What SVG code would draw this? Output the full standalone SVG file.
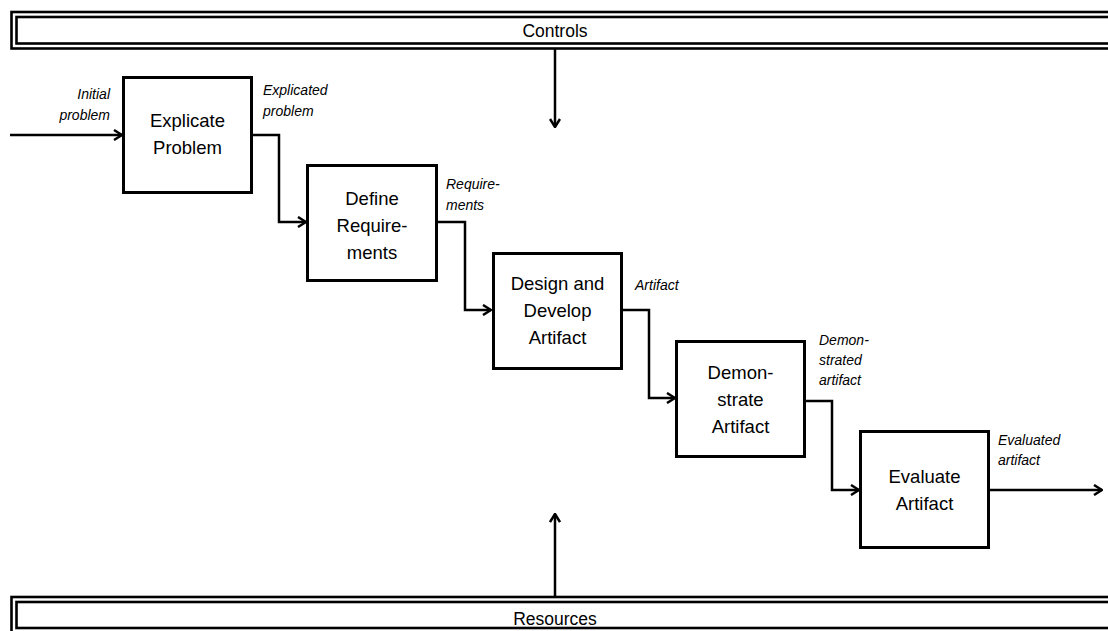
<svg xmlns="http://www.w3.org/2000/svg" width="1108" height="631" viewBox="0 0 1108 631">
<defs>
<style>
.box{fill:#fff;stroke:#000;stroke-width:3}
.bar{fill:none;stroke:#000;stroke-width:2.6}
.bt{font-family:"Liberation Sans",Arial,sans-serif;font-size:18.5px;text-anchor:middle;fill:#000}
.lbl{font-family:"Liberation Sans",Arial,sans-serif;font-size:14px;font-style:italic;fill:#000}
.cn{fill:none;stroke:#000;stroke-width:2.5;stroke-linejoin:miter}
</style>
<marker id="ah" viewBox="0 0 12 12" refX="11" refY="6" markerWidth="12" markerHeight="12" markerUnits="userSpaceOnUse" orient="auto">
<path d="M3,1 L11,6 L3,11" fill="none" stroke="#000" stroke-width="2.5"/>
</marker>
</defs>
<rect width="1108" height="631" fill="#fff"/>
<g id="controls">
<rect class="bar" x="11.5" y="12" width="1110" height="36.5"/>
<rect class="bar" x="16.5" y="17" width="1100" height="26.5"/>
<text class="bt" x="555" y="37" style="font-size:17.5px">Controls</text>
</g>
<g id="resources">
<rect class="bar" x="11.5" y="597" width="1110" height="40"/>
<rect class="bar" x="16.5" y="602" width="1100" height="26"/>
<text class="bt" x="555" y="625" style="font-size:17.5px">Resources</text>
</g>
<g id="connectors">
<path class="cn" d="M555,49 V127" marker-end="url(#ah)"/>
<path class="cn" d="M555,596 V514" marker-end="url(#ah)"/>
<path class="cn" d="M10,135 H122" marker-end="url(#ah)"/>
<path class="cn" d="M252,135 H279 V222 H306" marker-end="url(#ah)"/>
<path class="cn" d="M437,222 H465 V310 H491" marker-end="url(#ah)"/>
<path class="cn" d="M622,310 H649 V398 H675" marker-end="url(#ah)"/>
<path class="cn" d="M806,401 H832 V490 H859" marker-end="url(#ah)"/>
<path class="cn" d="M989,490 H1102" marker-end="url(#ah)"/>
</g>
<g id="explicate">
<rect class="box" x="123.5" y="77.5" width="128" height="115"/>
<text class="bt" x="187.5" y="127">Explicate</text>
<text class="bt" x="187.5" y="154">Problem</text>
</g>
<g id="define">
<rect class="box" x="307.5" y="165.5" width="129" height="115"/>
<text class="bt" x="372" y="205">Define</text>
<text class="bt" x="372" y="232">Require-</text>
<text class="bt" x="372" y="259">ments</text>
</g>
<g id="design">
<rect class="box" x="493.5" y="253.5" width="128" height="115"/>
<text class="bt" x="557.5" y="290">Design and</text>
<text class="bt" x="557.5" y="317">Develop</text>
<text class="bt" x="557.5" y="344">Artifact</text>
</g>
<g id="demonstrate">
<rect class="box" x="676.5" y="341.5" width="128" height="115"/>
<text class="bt" x="740.5" y="379">Demon-</text>
<text class="bt" x="740.5" y="406">strate</text>
<text class="bt" x="740.5" y="433">Artifact</text>
</g>
<g id="evaluate">
<rect class="box" x="860.5" y="431.5" width="128" height="116"/>
<text class="bt" x="924.5" y="483">Evaluate</text>
<text class="bt" x="924.5" y="510">Artifact</text>
</g>
<g id="labels">
<text class="lbl" x="110" y="99" text-anchor="end">Initial</text>
<text class="lbl" x="110" y="120" text-anchor="end">problem</text>
<text class="lbl" x="263" y="95">Explicated</text>
<text class="lbl" x="263" y="116">problem</text>
<text class="lbl" x="446" y="189">Require-</text>
<text class="lbl" x="446" y="210">ments</text>
<text class="lbl" x="635" y="290">Artifact</text>
<text class="lbl" x="819" y="345">Demon-</text>
<text class="lbl" x="819" y="365">strated</text>
<text class="lbl" x="819" y="385">artifact</text>
<text class="lbl" x="998" y="445">Evaluated</text>
<text class="lbl" x="998" y="465">artifact</text>
</g>
</svg>
